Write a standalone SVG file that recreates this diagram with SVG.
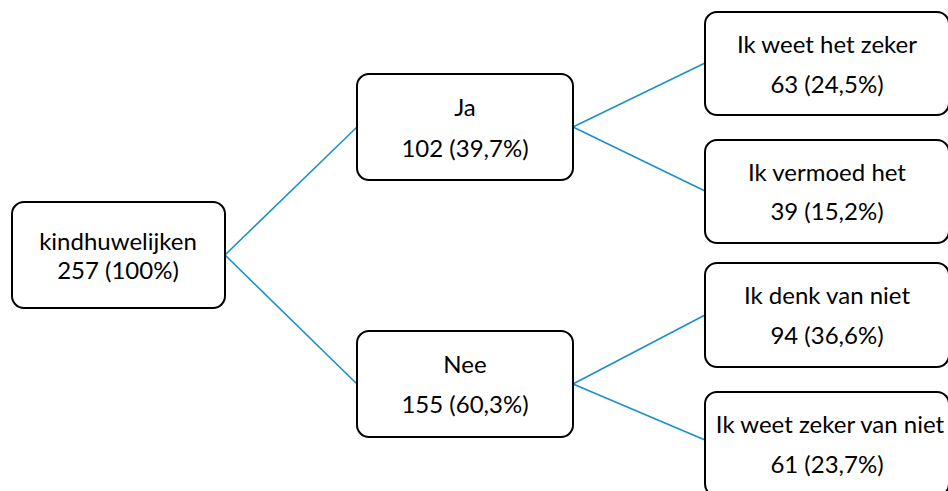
<svg xmlns="http://www.w3.org/2000/svg" width="948" height="491" viewBox="0 0 948 491">
<style>
.box{fill:#fff;stroke:#000;stroke-width:2}
.t{font-family:Lato,"Open Sans","Liberation Sans",sans-serif;font-size:24px;fill:#000;text-anchor:middle}
.c{stroke:#1C8FC9;stroke-width:1.6;fill:none}
</style>
<rect width="948" height="491" fill="#fff"/>
<g id="connectors">
<line class="c" x1="225" y1="255" x2="357" y2="127"/>
<line class="c" x1="225" y1="255" x2="357" y2="384"/>
<line class="c" x1="573" y1="127" x2="705" y2="63"/>
<line class="c" x1="573" y1="127" x2="705" y2="191"/>
<line class="c" x1="573" y1="384" x2="705" y2="315"/>
<line class="c" x1="573" y1="384" x2="705" y2="440"/>
</g>
<g id="root"><rect class="box" x="12" y="202" width="213" height="106" rx="12"/>
<text class="t" x="118" y="250">kindhuwelijken</text><text class="t" x="118" y="279">257 (100%)</text></g>
<g id="ja"><rect class="box" x="357" y="74" width="216" height="106" rx="12"/>
<text class="t" x="465" y="116">Ja</text><text class="t" x="465" y="157">102 (39,7%)</text></g>
<g id="nee"><rect class="box" x="357" y="331" width="216" height="106" rx="12"/>
<text class="t" x="465" y="373">Nee</text><text class="t" x="465" y="413">155 (60,3%)</text></g>
<g id="zeker"><rect class="box" x="705" y="12" width="244" height="103" rx="12"/>
<text class="t" x="827" y="53">Ik weet het zeker</text><text class="t" x="827" y="93">63 (24,5%)</text></g>
<g id="vermoed"><rect class="box" x="705" y="140" width="244" height="103" rx="12"/>
<text class="t" x="827" y="181">Ik vermoed het</text><text class="t" x="827" y="220">39 (15,2%)</text></g>
<g id="denk"><rect class="box" x="705" y="263" width="244" height="104" rx="12"/>
<text class="t" x="827" y="304">Ik denk van niet</text><text class="t" x="827" y="344">94 (36,6%)</text></g>
<g id="zekerniet"><rect class="box" x="705" y="392" width="244" height="104" rx="12"/>
<text class="t" x="830" y="433">Ik weet zeker van niet</text><text class="t" x="827" y="473">61 (23,7%)</text></g>
</svg>
